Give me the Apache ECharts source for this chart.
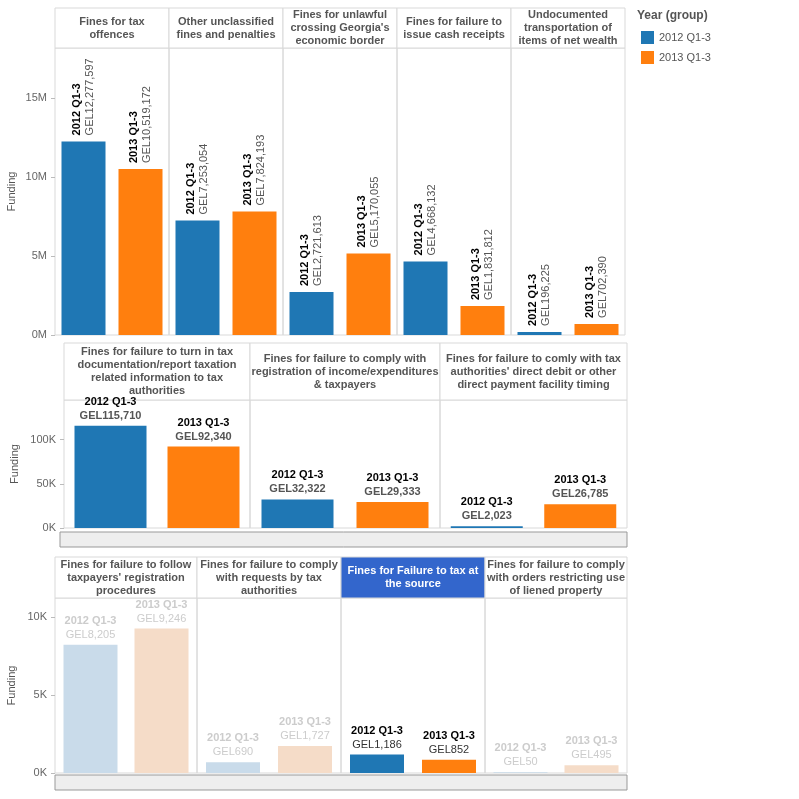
<!DOCTYPE html>
<html><head><meta charset="utf-8">
<script src="https://cdn.jsdelivr.net/npm/echarts@6/dist/echarts.min.js"></script>
<style>html,body{margin:0;background:#fff}#c{width:799px;height:799px}</style>
</head><body><div id="c"></div>
<script>
const years = ['2012 Q1-3', '2013 Q1-3']
const cats1 = ['Fines for tax\noffences', 'Other unclassified\nfines and penalties', 'Fines for unlawful\ncrossing Georgia\'s\neconomic border', 'Fines for failure to\nissue cash receipts', 'Undocumented\ntransportation of\nitems of net wealth']
const v2012a = [12277597, 7253054, 2721613, 4668132, 196225]
const v2013a = [10519172, 7824193, 5170055, 1831812, 702390]
const cats2 = ['Fines for failure to turn in tax\ndocumentation/report taxation\nrelated information to tax\nauthorities', 'Fines for failure to comply with\nregistration of income/expenditures\n& taxpayers', 'Fines for failure to comly with tax\nauthorities\' direct debit or other\ndirect payment facility timing']
const v2012b = [115710, 32322, 2023]
const v2013b = [92340, 29333, 26785]
const cats3 = ['Fines for failure to follow\ntaxpayers\' registration\nprocedures', 'Fines for failure to comply\nwith requests by tax\nauthorities', 'Fines for Failure to tax at\nthe source', 'Fines for failure to comply\nwith orders restricting use\nof liened property']
const v2012c = [8205, 690, 1186, 50]
const v2013c = [9246, 1727, 852, 495]
const selected3 = 2

const BLUE = '#1f77b4', ORANGE = '#ff7f0e'
const FONT = 'Arial, "Liberation Sans", sans-serif'
const fmt = n => 'GEL' + n.toLocaleString('en-US')

const panels = [
  { cats: cats1, a: v2012a, b: v2013a, xs: [55, 169, 283, 397, 511, 625], hTop: 8, top: 48, bottom: 335,
    max: 18.2e6, interval: 5e6, unit: v => v / 1e6 + 'M', rotate: true, barW: 44, nameGap: 38 },
  { cats: cats2, a: v2012b, b: v2013b, xs: [64, 250, 440, 627], hTop: 343, top: 400, bottom: 528,
    max: 145000, interval: 50000, unit: v => v / 1000 + 'K', barW: 72, nameGap: 44, bold2: true },
  { cats: cats3, a: v2012c, b: v2013c, xs: [55, 197, 341, 485, 627], hTop: 557, top: 598, bottom: 773,
    max: 11200, interval: 5000, unit: v => v / 1000 + 'K', barW: 54, nameGap: 38, sel: selected3 },
]

const grid = [], xAxis = [], yAxis = [], series = [], graphic = []
panels.forEach((p, pi) => {
  p.cats.forEach((cat, ci) => {
    const gi = grid.length
    const x0 = p.xs[ci], x1 = p.xs[ci + 1]
    grid.push({ left: x0, width: x1 - x0, top: p.top, height: p.bottom - p.top, show: true, borderColor: '#d9d9d9', borderWidth: 1 })
    xAxis.push({ gridIndex: gi, type: 'category', data: years, show: false })
    yAxis.push({
      gridIndex: gi, type: 'value', min: 0, max: p.max, interval: p.interval, show: ci === 0,
      name: ci === 0 ? 'Funding' : '', nameLocation: 'middle', nameRotate: 90, nameGap: p.nameGap,
      nameTextStyle: { color: '#555', fontSize: 11, fontFamily: FONT },
      axisLine: { show: false }, splitLine: { show: false },
      axisTick: { show: true, length: 4, lineStyle: { color: '#bbb' } },
      axisLabel: { color: '#666', fontSize: 11, fontFamily: FONT, formatter: v => v > p.max ? '' : p.unit(v), showMaxLabel: false }
    })
    const faded = p.sel !== undefined && p.sel !== ci
    const sel = p.sel === ci
    ;[p.a[ci], p.b[ci]].forEach((v, yi) => {
      let color = yi === 0 ? BLUE : ORANGE
      if (faded) color = yi === 0 ? '#c9dbea' : '#f5dcc8'
      const label = p.rotate ? {
        show: true, position: 'top', rotate: 90, align: 'left', verticalAlign: 'middle', distance: 6,
        formatter: fmt(v).replace(/^/, '{a|' + years[yi] + '}\n{b|') + '}',
        rich: { a: { fontWeight: 'bold', color: '#000', fontSize: 11, fontFamily: FONT, lineHeight: 13 },
                b: { color: '#555', fontSize: 11, fontFamily: FONT, lineHeight: 13 } }
      } : {
        show: true, position: 'top', distance: 3,
        formatter: '{a|' + years[yi] + '}\n{b|' + fmt(v) + '}',
        rich: { a: { fontWeight: 'bold', color: faded ? '#cccccc' : '#000', fontSize: 11, fontFamily: FONT, lineHeight: 14, align: 'center' },
                b: { fontWeight: p.bold2 ? 'bold' : 'normal', color: faded ? '#cccccc' : (p.bold2 ? '#555' : '#333'), fontSize: 11, fontFamily: FONT, lineHeight: 14, align: 'center' } }
      }
      series.push({
        name: years[yi], type: 'bar', xAxisIndex: gi, yAxisIndex: gi, stack: 's' + gi,
        barWidth: p.barW, itemStyle: { color }, label, silent: true,
        data: yi === 0 ? [v, '-'] : ['-', v]
      })
    })
    // header cell
    graphic.push({ type: 'rect', shape: { x: x0, y: p.hTop, width: x1 - x0, height: p.top - p.hTop },
      style: { fill: sel ? '#3366cc' : '#fff', stroke: '#d9d9d9', lineWidth: 1 } })
    graphic.push({ type: 'text', x: (x0 + x1) / 2, y: (p.hTop + p.top) / 2,
      style: { text: cat, textAlign: 'center', textVerticalAlign: 'middle', fill: sel ? '#fff' : '#555',
        font: 'bold 11px ' + FONT, lineHeight: 13 } })
  })
})
// scroll bars
graphic.push({ type: 'rect', shape: { x: 60, y: 532, width: 567, height: 15 }, style: { fill: '#eeeeee', stroke: '#999', lineWidth: 1 } })
graphic.push({ type: 'rect', shape: { x: 55, y: 775, width: 572, height: 15 }, style: { fill: '#eeeeee', stroke: '#999', lineWidth: 1 } })
graphic.push({ type: 'text', x: 637, y: 10, style: { text: 'Year (group)', fill: '#555', font: 'bold 12px ' + FONT } })

const chart = echarts.init(document.getElementById('c'))
chart.setOption({
  animation: false,
  textStyle: { fontFamily: FONT },
  legend: { data: years, orient: 'vertical', left: 636, top: 26, icon: 'rect', itemWidth: 13, itemHeight: 13, itemGap: 7,
    selectedMode: false, textStyle: { color: '#555', fontSize: 11 } },
  grid, xAxis, yAxis, series, graphic
})
</script></body></html>
